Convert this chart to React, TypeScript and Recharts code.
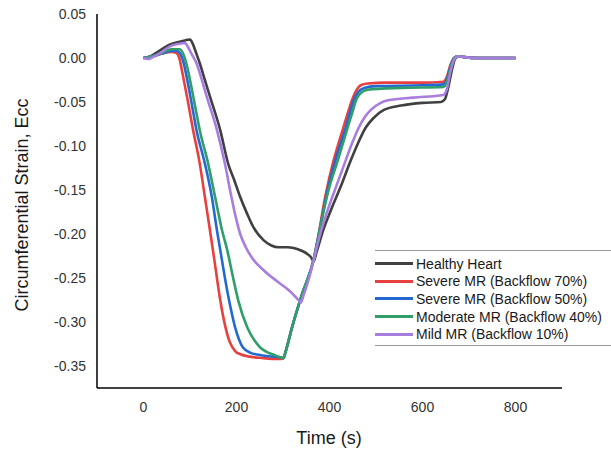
import React from "react";
import { LineChart, Line, XAxis, YAxis, Legend, Label } from "recharts";

// [time (s), Ecc]
const healthy = [
  [0, 0], [15, 0.002], [28, 0.006], [56, 0.015], [82, 0.019], [100, 0.021], [106, 0.016], [113, 0.006],
  [121, -0.006], [132, -0.025], [143, -0.044], [165, -0.082], [182, -0.12], [196, -0.14], [208, -0.158],
  [222, -0.176], [236, -0.192], [258, -0.207], [275, -0.213], [290, -0.215], [310, -0.215], [323, -0.216],
  [340, -0.219], [353, -0.223], [361, -0.227], [366, -0.231], [372, -0.221], [385, -0.198], [403, -0.173],
  [425, -0.145], [446, -0.116], [462, -0.096], [478, -0.079], [495, -0.068], [517, -0.059], [554, -0.054],
  [600, -0.051], [640, -0.05], [648, -0.047], [656, -0.032], [664, -0.012], [670, -0.001], [678, 0.002],
  [690, 0.001], [720, 0], [800, 0],
];
const severe70 = [
  [0, 0], [20, 0.002], [40, 0.005], [60, 0.007], [70, 0.006], [77, 0.0], [84, -0.018], [95, -0.048],
  [106, -0.08], [121, -0.12], [132, -0.158], [143, -0.196], [152, -0.228], [165, -0.275], [175, -0.303],
  [185, -0.322], [197, -0.333], [210, -0.337], [223, -0.339], [258, -0.341], [295, -0.342], [301, -0.341],
  [306, -0.333], [320, -0.305], [340, -0.27], [366, -0.229], [375, -0.205], [390, -0.16], [409, -0.116],
  [420, -0.096], [431, -0.077], [442, -0.058], [452, -0.043], [460, -0.035], [467, -0.031], [482, -0.029],
  [520, -0.028], [600, -0.028], [645, -0.027], [652, -0.022], [660, -0.008], [668, 0.0], [676, 0.002],
  [690, 0.001], [720, 0], [800, 0],
];
const severe50 = [
  [0, 0], [20, 0.002], [40, 0.005], [60, 0.008], [72, 0.008], [80, 0.004], [86, -0.005], [93, -0.022],
  [103, -0.05], [114, -0.082], [132, -0.12], [147, -0.158], [158, -0.196], [165, -0.218], [182, -0.27],
  [197, -0.306], [214, -0.329], [230, -0.335], [245, -0.337], [270, -0.339], [294, -0.34], [301, -0.341],
  [306, -0.333], [320, -0.305], [340, -0.27], [366, -0.229], [378, -0.198], [395, -0.152], [413, -0.116],
  [435, -0.079], [453, -0.047], [463, -0.038], [475, -0.034], [500, -0.032], [600, -0.031], [645, -0.03],
  [652, -0.025], [660, -0.01], [668, 0.0], [676, 0.002], [690, 0.001], [720, 0], [800, 0],
];
const moderate40 = [
  [0, 0], [20, 0.002], [40, 0.006], [60, 0.01], [78, 0.01], [86, 0.004], [93, -0.008], [100, -0.025],
  [110, -0.052], [121, -0.082], [139, -0.12], [154, -0.158], [169, -0.196], [180, -0.218], [192, -0.248],
  [204, -0.276], [223, -0.306], [240, -0.322], [251, -0.329], [265, -0.334], [279, -0.337], [301, -0.341],
  [306, -0.333], [320, -0.305], [340, -0.27], [366, -0.229], [381, -0.19], [398, -0.15], [418, -0.116],
  [439, -0.079], [449, -0.062], [457, -0.048], [467, -0.04], [482, -0.036], [554, -0.034], [645, -0.033],
  [652, -0.028], [660, -0.012], [668, 0.0], [676, 0.002], [690, 0.001], [720, 0], [800, 0],
];
const mild10 = [
  [0, 0], [10, -0.001], [20, 0.001], [40, 0.007], [56, 0.013], [75, 0.016], [89, 0.017], [95, 0.013],
  [103, 0.005], [114, -0.006], [125, -0.024], [136, -0.044], [158, -0.082], [175, -0.12], [188, -0.155],
  [198, -0.18], [208, -0.2], [220, -0.215], [236, -0.229], [260, -0.242], [288, -0.254], [315, -0.265],
  [333, -0.275], [338, -0.278], [344, -0.27], [355, -0.252], [366, -0.23], [380, -0.2], [396, -0.173],
  [415, -0.145], [435, -0.116], [450, -0.095], [463, -0.079], [476, -0.067], [489, -0.059], [510, -0.051],
  [526, -0.048], [580, -0.045], [645, -0.042], [652, -0.036], [660, -0.016], [668, -0.002], [676, 0.002],
  [690, 0.001], [720, 0], [800, 0],
];

const names = ["Healthy Heart", "Severe MR (Backflow 70%)", "Severe MR (Backflow 50%)", "Moderate MR (Backflow 40%)", "Mild MR (Backflow 10%)"];
const colors = ["#404040", "#e8403f", "#2369d1", "#2f9e69", "#a77de0"];
const xTicks = [0, 200, 400, 600, 800];
const yTicks = [0.05, 0, -0.05, -0.1, -0.15, -0.2, -0.25, -0.3, -0.35];

const series = [healthy, severe70, severe50, moderate40, mild10].map((s, i) => ({
  name: names[i],
  color: colors[i],
  data: s.map(([t, v]) => ({ t, v })),
}));

const renderLegend = () => (
  <div style={{ borderTop: "1px solid #9a9a9a", borderBottom: "1px solid #9a9a9a", padding: "4px 0 2px 0", width: 260 }}>
    {series.map(s => (
      <div key={s.name} style={{ display: "flex", alignItems: "center", height: 17.6 }}>
        <span style={{ display: "inline-block", width: 38, height: 3, background: s.color, marginRight: 3 }} />
        <span style={{ fontSize: 14, color: "#1a1a1a", whiteSpace: "nowrap" }}>{s.name}</span>
      </div>
    ))}
  </div>
);

export default function App() {
  return (
    <div style={{ position: "absolute", left: 0, top: 0, fontFamily: "'Liberation Sans', Arial, sans-serif", background: "#fff" }}>
      <LineChart width={611} height={450} margin={{ top: 14, right: 49, left: 0, bottom: 0 }}>
        <XAxis
          type="number" dataKey="t" domain={[-100, 900]} ticks={xTicks} allowDataOverflow
          axisLine={{ stroke: "#000", strokeWidth: 1.5 }} tickLine={false} tickMargin={8} height={62}
          tick={{ fontSize: 14, fill: "#333" }}
        >
          <Label content={() => <text x={329} y={444} textAnchor="middle" fontSize={18} fill="#1a1a1a">Time (s)</text>} />
        </XAxis>
        <YAxis
          type="number" domain={[-0.375, 0.05]} ticks={yTicks} allowDataOverflow width={97}
          axisLine={{ stroke: "#000", strokeWidth: 1.5 }} tickLine={false} tickMargin={5}
          tick={{ fontSize: 14, fill: "#333" }} tickFormatter={v => v.toFixed(2)}
        >
          <Label content={() => <text x={28} y={205} transform="rotate(-90 28 205)" textAnchor="middle" fontSize={18} fill="#1a1a1a">Circumferential Strain, Ecc</text>} />
        </YAxis>
        <Legend layout="vertical" align="center" verticalAlign="middle" content={renderLegend}
          wrapperStyle={{ left: 375, top: 250, width: 260 }} />
        {series.map(s => (
          <Line key={s.name} data={s.data} dataKey="v" name={s.name} type="monotone" stroke={s.color}
            strokeWidth={2.6} dot={false} isAnimationActive={false} />
        ))}
      </LineChart>
    </div>
  );
}
